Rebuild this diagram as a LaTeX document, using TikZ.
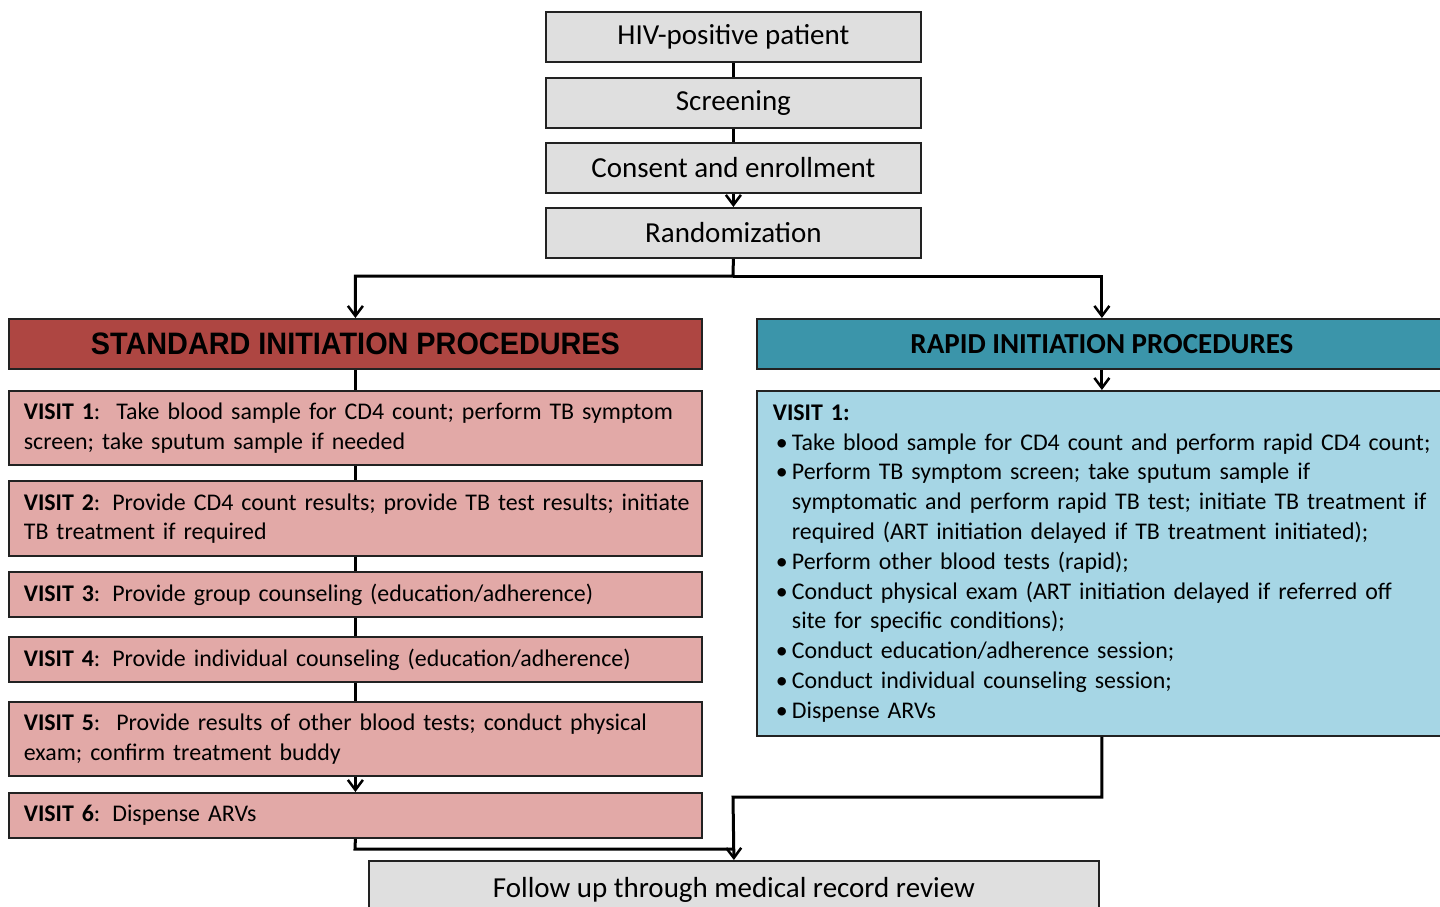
\documentclass[tikz,border=0pt]{standalone}
\usepackage{fontspec}
\setmainfont{Carlito}
\newfontfamily\hdfont[FakeStretch=0.93]{Liberation Sans}
\usetikzlibrary{arrows.meta}
\definecolor{graybox}{HTML}{DFDFDF}
\definecolor{redhead}{HTML}{AE4642}
\definecolor{pinkbox}{HTML}{E2A9A7}
\definecolor{tealhead}{HTML}{3B95AA}
\definecolor{bluebox}{HTML}{A6D6E5}
\definecolor{edge}{HTML}{222222}
\begin{document}
\begin{tikzpicture}[x=1pt,y=-1pt,
  base/.style={draw=edge,line width=1.8pt,anchor=north west,inner sep=0pt},
  topbox/.style={base,fill=graybox,minimum width=375pt,minimum height=50pt,font=\fontsize{29}{32}\selectfont},
  visitbox/.style={base,fill=pinkbox,minimum width=693pt,text width=663pt,inner xsep=15pt,align=left,font=\fontsize{23.9}{29.5}\selectfont},
  conn/.style={line width=3pt,draw=black},
  arr/.style={conn,-{Straight Barb[length=10pt,width=15pt,line width=2.5pt]}},
]
\useasboundingbox (0,0) rectangle (1440,907);

% top column
\node[topbox] (hiv) at (545,11) {HIV-positive patient};
\node[topbox] (scr) at (545,77) {Screening};
\node[topbox] (con) at (545,142) {Consent and enrollment};
\node[topbox] (ran) at (545,207) {Randomization};

% headers
\node[base,fill=redhead,minimum width=693pt,minimum height=50pt,font=\hdfont\bfseries\fontsize{31}{34}\selectfont] (std) at (8,318) {STANDARD INITIATION PROCEDURES};
\node[base,fill=tealhead,minimum width=690pt,minimum height=50pt,font=\bfseries\fontsize{29}{32}\selectfont] (rap) at (756,318) {RAPID INITIATION PROCEDURES};

% standard visits
\node[visitbox,minimum height=74pt] (v1) at (8,390) {\mbox{\textbf{VISIT 1}:\ \ Take blood sample for CD4 count; perform TB symptom}\\\mbox{screen; take sputum sample if needed}};
\node[visitbox,minimum height=75pt] (v2) at (8,480) {\mbox{\textbf{VISIT 2}: Provide CD4 count results; provide TB test results; initiate}\\\mbox{TB treatment if required}};
\node[visitbox,minimum height=45pt] (v3) at (8,571) {\mbox{\textbf{VISIT 3}: Provide group counseling (education/adherence)}};
\node[visitbox,minimum height=45pt] (v4) at (8,636) {\mbox{\textbf{VISIT 4}: Provide individual counseling (education/adherence)}};
\node[visitbox,minimum height=74pt] (v5) at (8,701) {\mbox{\textbf{VISIT 5}:\ \ Provide results of other blood tests; conduct physical}\\\mbox{exam; confirm treatment buddy}};
\node[visitbox,minimum height=45pt] (v6) at (8,792) {\mbox{\textbf{VISIT 6}: Dispense ARVs}};

% rapid visit
\newcommand{\bul}{\makebox[19pt][l]{\hspace{3pt}•}}
\newcommand{\ind}{\hspace*{19pt}}
\node[base,fill=bluebox,minimum width=690pt,minimum height=345pt,text width=658pt,inner xsep=16pt,align=left,font=\fontsize{23.9}{29.8}\selectfont] (rv) at (756,390) {\textbf{VISIT 1:}\\
\mbox{\bul Take blood sample for CD4 count and perform rapid CD4 count;}\\
\mbox{\bul Perform TB symptom screen; take sputum sample if}\\
\mbox{\ind symptomatic and perform rapid TB test; initiate TB treatment if}\\
\mbox{\ind required (ART initiation delayed if TB treatment initiated);}\\
\mbox{\bul Perform other blood tests (rapid);}\\
\mbox{\bul Conduct physical exam (ART initiation delayed if referred off}\\
\mbox{\ind site for specific conditions);}\\
\mbox{\bul Conduct education/adherence session;}\\
\mbox{\bul Conduct individual counseling session;}\\
\mbox{\bul Dispense ARVs}};

% follow up
\node[base,fill=graybox,minimum width=730pt,minimum height=58pt,font=\fontsize{29}{32}\selectfont] (fu) at (368,860) {Follow up through medical record review};

% connectors top
\draw[conn] (hiv) -- (scr);
\draw[conn] (scr) -- (con);
\draw[arr] (con) -- (ran);
\coordinate (split) at (733,276);
\draw[arr] (ran.south) -- (split) -| (std.north);
\draw[arr] (split) -| (rap.north);

% standard column
\draw[conn] (std.south) -- (std.south |- v1.north);
\draw[conn] (v1.south) -- (v1.south |- v2.north);
\draw[conn] (v2.south) -- (v2.south |- v3.north);
\draw[conn] (v3.south) -- (v3.south |- v4.north);
\draw[conn] (v4.south) -- (v4.south |- v5.north);
\draw[arr] (v5.south) -- (v5.south |- v6.north);

% rapid column
\draw[arr] (rap.south) -- (rv.north);
\coordinate (rjoin) at (733,797);
\coordinate (sjoin) at (355,849);
\draw[arr] (rv.south) |- (rjoin) -- (fu.north);
\draw[conn] (v6.south) -- (sjoin) -- (733,849);
\end{tikzpicture}
\end{document}
